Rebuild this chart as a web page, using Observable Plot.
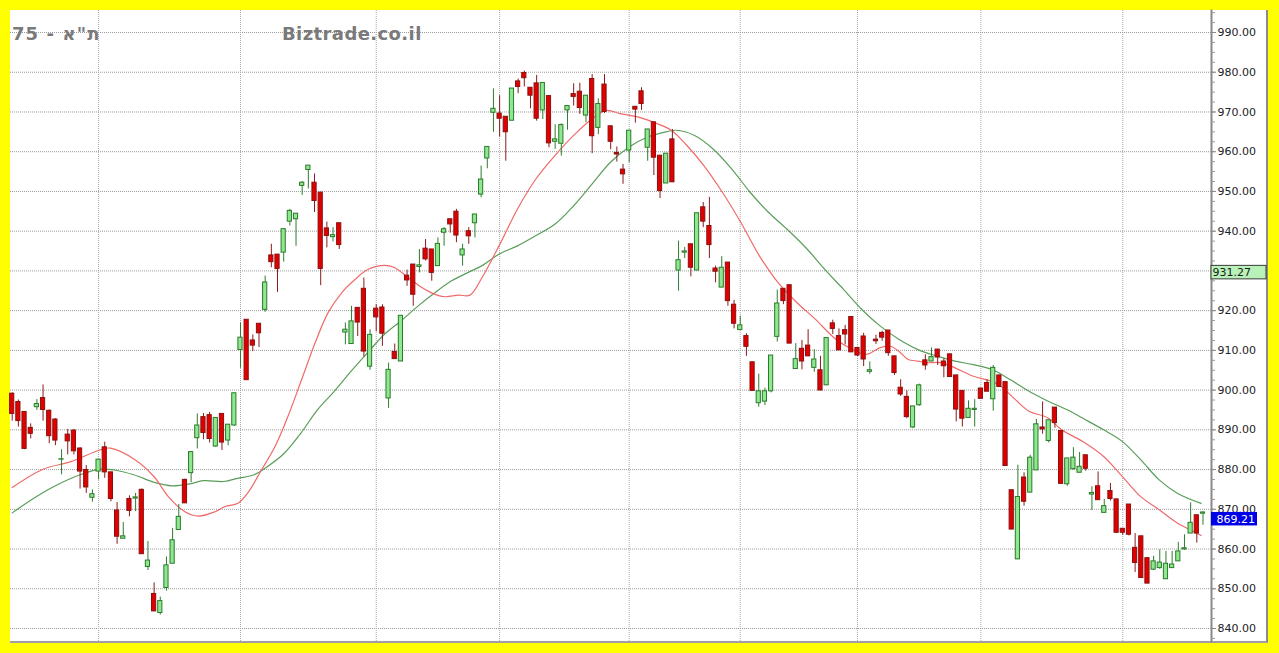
<!DOCTYPE html>
<html>
<head>
<meta charset="utf-8">
<script src="https://cdn.jsdelivr.net/npm/d3@7"></script>
<script src="https://cdn.jsdelivr.net/npm/@observablehq/plot@0.6"></script>
<style>
html, body { margin: 0; padding: 0; width: 1279px; height: 653px; overflow: hidden; background: #ffff00; }
#panel { position: absolute; left: 10px; top: 10px; width: 1256px; height: 631px; background: #ffffff;
  border-right: 2px solid #8a8a8a; border-bottom: 2px solid #a0a0a0; box-sizing: content-box; }
#chart { position: absolute; left: 0; top: 0; }
.ttl { position: absolute; top: 23px; font: bold 18px "DejaVu Sans", Verdana, sans-serif; color: #7a7a7a; white-space: nowrap; }
</style>
</head>
<body>
<div id="panel"></div>
<div id="chart"></div>
<div class="ttl" id="t1" style="left:12px; letter-spacing:1.1px" dir="rtl"></div>
<div class="ttl" id="t2" style="left:282px; letter-spacing:0.4px"></div>
<script>
// ---- titles ----
const titleLeft = 'ת"א - 75';
const titleRight = "Biztrade.co.il";

// ---- daily OHLC (index 0 = leftmost candle) ----
const open = [
899.1,897.0,894.5,890.5,895.7,898.0,894.8,892.6,882.5,888.8,
889.8,885.3,879.9,872.9,879.5,885.6,879.3,869.7,862.6,872.6,
872.7,874.9,855.5,848.7,843.9,850.2,856.3,864.8,877.4,879.1,
887.9,893.2,893.7,885.8,894.0,887.3,891.1,910.1,917.7,912.5,
916.7,920.2,933.9,934.1,934.6,942.4,943.0,951.4,955.4,952.2,
949.7,940.7,938.5,942.0,914.5,911.6,920.7,925.5,905.9,920.5,
920.8,897.9,909.6,907.2,928.8,931.6,931.0,935.6,935.4,931.2,
939.6,943.0,944.9,933.9,940.0,942.0,949.2,958.3,969.8,969.6,
968.8,967.8,977.7,979.8,976.1,977.2,970.4,974.0,962.5,962.0,
970.4,974.5,975.1,969.1,978.3,966.0,976.9,966.4,959.7,955.5,
960.3,971.3,975.2,961.0,967.4,959.0,952.0,963.1,930.1,934.6,
936.7,930.1,946.0,941.3,930.6,925.8,932.1,921.5,915.1,913.6,
907.0,896.7,897.1,899.7,913.4,925.5,926.4,905.3,910.4,911.2,
905.6,905.0,901.2,916.8,913.6,915.1,918.4,910.6,913.5,904.6,
912.7,914.4,915.0,908.5,900.6,898.3,890.6,896.2,907.5,907.2,
910.2,907.2,909.0,903.7,899.8,893.0,895.0,900.4,901.8,897.7,
903.7,902.0,874.8,857.4,878.0,874.2,879.8,890.6,887.2,895.6,
889.7,876.3,880.1,879.2,883.6,873.7,875.8,869.1,874.6,872.5,
865.1,871.2,860.3,863.2,857.7,854.8,855.2,852.4,855.2,856.9,
859.9,863.9,868.5,868.9];
const high = [
899.3,897.5,894.6,891.5,897.6,901.3,895.0,892.8,885.0,890.1,
890.1,885.5,881.0,874.9,882.5,886.9,879.3,871.7,866.7,873.4,
874.0,875.1,861.9,851.5,847.9,858.0,865.2,871.2,877.6,884.4,
894.0,894.1,894.4,893.0,894.0,891.3,899.2,916.9,917.7,913.9,
916.7,928.7,936.7,934.1,940.5,945.5,944.4,952.5,956.5,954.4,
949.7,942.3,940.9,942.0,916.9,921.1,920.7,928.2,915.2,921.5,
921.5,906.8,911.6,918.7,930.2,931.6,935.4,937.9,935.4,938.3,
940.9,943.0,945.5,936.7,940.9,944.2,956.4,961.2,975.8,974.1,
968.8,975.9,978.3,980.3,976.1,979.2,977.3,974.0,966.8,967.0,
971.5,977.1,977.2,974.1,979.4,973.3,979.4,966.4,961.2,956.8,
965.3,971.3,976.1,965.6,967.4,959.0,959.5,965.6,937.5,935.9,
936.7,944.5,947.2,948.5,931.2,933.6,932.1,922.6,918.6,914.2,
907.0,904.0,900.5,908.7,925.2,925.5,926.4,911.7,912.5,915.2,
910.2,908.5,913.1,917.6,915.4,916.3,918.4,910.6,914.3,907.1,
913.8,914.8,915.0,908.5,902.6,899.8,895.9,901.5,908.9,910.6,
910.2,907.9,909.0,903.7,899.8,897.3,897.6,900.4,902.6,906.2,
903.7,902.0,874.8,881.1,879.2,883.6,892.6,897.0,892.4,895.6,
889.7,882.8,885.5,884.3,883.6,875.7,879.4,872.5,876.5,872.5,
865.1,871.2,863.9,863.2,857.7,858.2,859.8,859.4,859.4,861.7,
863.6,871.6,868.5,869.3];
const low = [
892.2,890.7,885.0,887.7,894.9,892.2,886.5,886.0,878.7,883.7,
883.7,875.1,874.0,871.8,877.4,877.8,871.9,861.2,862.6,868.1,
869.4,858.7,854.6,844.3,843.4,849.4,856.3,864.8,871.5,876.7,
885.2,887.5,886.7,885.6,884.8,886.0,890.9,905.5,902.5,909.7,
910.7,919.6,930.8,924.6,932.2,941.3,936.2,949.0,950.6,944.7,
926.3,935.8,937.3,935.4,911.4,911.6,913.5,908.3,905.0,914.7,
911.0,895.4,907.8,907.2,926.1,921.1,929.5,932.5,927.4,931.2,
936.2,939.5,937.1,931.2,936.7,938.3,948.4,955.7,964.9,963.7,
957.6,967.8,974.6,976.3,970.8,967.7,968.1,961.0,960.6,958.9,
965.4,971.5,969.4,967.3,959.5,964.3,969.6,960.5,957.4,951.8,
957.2,967.2,970.4,957.6,954.0,948.2,952.0,952.3,924.9,933.1,
928.5,930.1,940.9,933.1,927.0,925.8,921.1,915.4,915.1,908.5,
899.8,895.7,896.1,899.3,912.1,921.5,911.7,905.3,905.1,908.5,
904.5,899.9,901.2,914.0,910.0,911.4,909.5,908.5,905.9,904.0,
911.5,912.3,908.5,903.7,898.4,892.8,890.3,895.9,905.0,907.1,
906.2,903.1,903.3,892.0,890.7,893.0,890.7,897.8,899.6,894.7,
900.8,880.9,864.9,857.4,870.8,874.2,879.8,888.9,886.7,890.4,
876.4,875.8,879.9,879.2,879.6,869.7,872.3,869.1,872.1,863.9,
863.4,863.3,854.1,852.7,851.3,854.6,854.9,852.4,855.2,856.9,
859.7,863.9,861.5,866.0];
const close = [
894.0,892.2,885.2,889.0,896.5,895.0,888.4,887.3,882.6,887.1,
884.6,879.5,875.5,873.8,882.5,879.3,872.6,863.1,863.2,869.6,
873.0,858.7,857.1,844.3,846.9,855.9,862.2,868.1,871.5,884.4,
891.1,889.2,887.7,893.0,886.8,891.3,899.2,913.2,902.5,911.2,
914.3,927.1,932.2,930.5,940.5,945.1,944.4,952.2,956.5,947.6,
930.5,938.8,939.0,936.5,915.2,917.3,917.0,909.7,913.9,918.3,
914.2,905.1,907.8,918.7,927.6,924.0,931.4,932.9,929.5,936.8,
940.5,941.7,938.9,935.4,938.7,944.2,953.0,961.2,970.8,968.3,
964.9,975.9,976.3,978.5,974.1,968.3,977.3,962.1,963.1,966.7,
971.5,973.8,971.0,974.1,963.9,972.0,970.0,962.5,959.3,954.3,
965.3,970.6,972.0,965.6,958.5,950.1,959.5,952.3,932.7,934.9,
930.8,944.5,942.4,936.5,929.8,930.8,922.4,916.7,916.3,910.9,
899.8,899.7,899.7,908.7,921.8,922.4,911.7,907.8,907.2,908.5,
907.7,899.9,913.1,915.4,910.0,914.0,909.5,908.7,907.7,905.0,
912.3,913.2,909.3,904.3,898.9,893.2,895.9,901.2,906.2,908.3,
908.2,906.0,903.3,895.1,892.8,895.3,895.3,897.8,899.6,905.6,
900.8,880.9,864.9,873.1,871.9,883.0,891.4,890.1,892.4,891.7,
876.4,882.8,883.0,880.7,880.2,874.1,872.3,870.8,872.6,864.1,
864.1,863.6,856.5,852.7,851.3,856.9,856.6,856.3,856.1,859.4,
860.2,866.6,863.9,869.21];

// ---- moving averages (candle index, value) ----
const redMAIdx = [0,5,9.5,14.3,15.9,19.9,23,25.3,28,30.2,32.9,34.5,36.6,38.3,40.4,42.6,44.7,46.9,49.1,51.2,
  53.4,55.6,57.7,60.4,62,64.2,66.4,68.5,70.2,72.3,74.2,76,78.9,81.9,84.9,88,91,94,96.3,98.5,
  101.5,103.8,106.8,109.1,112.1,115.1,118.1,121.1,124.1,127.2,130.2,133.2,136.2,138.5,140.7,142.2,143.7,145.2,146.8,148.3,
  150.5,152.8,155.8,158.8,160.2,162.6,164.8,167.9,170.1,173.9,176.9,179.9,182.9,185.9,188.9,192,192.7];
const redMA = [875.5,880.1,882.0,885.0,885.4,882.5,878.2,873.2,869.4,868.3,869.4,870.7,871.5,874.4,879.9,885.8,893.4,902.6,911.9,919.5,
  924.5,927.9,930.4,931.4,930.8,928.3,925.8,924.1,923.5,923.9,923.9,927.9,936.3,945.6,953.2,959.1,964.1,968.3,970.4,969.6,
  968.7,967.5,965.4,962.0,956.5,949.8,942.2,933.8,927.1,922.0,917.8,913.2,910.2,909.0,910.7,911.1,909.8,907.7,907.3,906.9,
  906.9,905.6,903.5,902.2,901.0,897.6,894.7,893.0,890.0,886.7,883.3,878.3,873.2,869.9,866.5,864.0,863.4];
const greenMAIdx = [0,3.5,6.7,11,14.3,16.5,19.7,23.2,25.9,28.8,31,34.3,36.5,39.2,41.4,44.1,46.8,49.5,52.2,54.9,
  57.6,60.3,63,65.8,68.5,71.2,74,76,78.9,81.9,84.9,88,91,94,97,100,103,106,107.6,110.6,
  113.6,116.6,119.6,122.6,125.6,128.6,131.7,134.7,137.7,140.7,143.7,146.8,149.8,152.8,155.8,158.8,161.8,164.8,167.9,170.9,
  173.9,176.9,179.9,182.9,185.9,188.9,192.7];
const greenMA = [869.1,872.8,875.7,878.7,880.1,879.9,878.7,876.7,875.9,876.4,877.2,877.0,877.8,878.7,880.8,884.1,889.2,895.1,899.7,904.7,
  909.4,914.0,917.4,921.2,924.5,927.5,929.7,931.2,934.2,936.3,938.9,941.8,946.4,951.9,957.4,961.2,963.7,965.0,965.4,964.1,
  960.7,955.7,949.8,944.7,940.5,935.9,930.4,925.4,920.3,916.1,912.8,910.2,908.6,907.3,906.4,905.2,902.6,899.7,897.2,895.1,
  892.6,890.0,887.1,882.5,877.4,874.0,871.5];

// ---- axis / grid ----
const yTicks = d3.range(840, 991, 10);
const yTickLabels = yTicks.filter(v => v !== 930);   // 930.00 sits under the marker box
const yMinor = d3.range(837.5, 995.1, 2.5);
const monthStarts = [14, 37, 59, 79, 100, 118, 137, 157, 180];
const markerValue = 931.27;
const lastValue = 869.21;

const candles = open.map((o, i) => ({ i, o, h: high[i], l: low[i], c: close[i] }));
const upC = candles.filter(d => d.c >= d.o);
const downC = candles.filter(d => d.c < d.o);
const redPts = redMAIdx.map((i, k) => ({ i, v: redMA[k] }));
const greenPts = greenMAIdx.map((i, k) => ({ i, v: greenMA[k] }));

const xMin = -0.276, xMax = 194.38;
const bodyHalf = 0.34;

const chart = Plot.plot({
  width: 1279,
  height: 653,
  marginLeft: 10,
  marginRight: 68,
  marginTop: 10,
  marginBottom: 12,
  style: { background: "transparent", fontFamily: "'DejaVu Sans', Verdana, sans-serif", overflow: "visible" },
  x: { domain: [xMin, xMax], axis: null },
  y: { domain: [836.73, 995.54], axis: null },
  marks: [
    Plot.ruleY(yTicks, { stroke: "#9a9a9a", strokeDasharray: "1,1" }),
    Plot.ruleX(monthStarts, { stroke: "#a8a8a8", strokeDasharray: "1,1" }),
    Plot.line(greenPts, { x: "i", y: "v", stroke: "#5a9e5a", strokeWidth: 1.2, curve: "catmull-rom" }),
    Plot.line(redPts, { x: "i", y: "v", stroke: "#f06a6a", strokeWidth: 1.2, curve: "catmull-rom" }),
    Plot.ruleX(upC, { x: "i", y1: "l", y2: "h", stroke: "#2e7d2e", strokeWidth: 1 }),
    Plot.ruleX(downC, { x: "i", y1: "l", y2: "h", stroke: "#8a1a1a", strokeWidth: 1 }),
    Plot.rect(upC, { x1: d => d.i - bodyHalf, x2: d => d.i + bodyHalf, y1: "o", y2: "c",
      fill: "#8fe88f", stroke: "#2a7a2a", strokeWidth: 1 }),
    Plot.rect(downC, { x1: d => d.i - bodyHalf, x2: d => d.i + bodyHalf, y1: "o", y2: "c",
      fill: "#e00000", stroke: "#8a1010", strokeWidth: 1 }),
    Plot.frame({ anchor: "right", stroke: "#8a8a8a", strokeWidth: 2 }),
    Plot.axisY(yMinor, { anchor: "right", tickSize: 3, tickFormat: () => "", stroke: "#9a9a9a", label: null }),
    Plot.axisY(yTicks, { anchor: "right", tickSize: 4, tickFormat: () => "", stroke: "#8a8a8a", label: null }),
    Plot.axisY(yTickLabels, { anchor: "right", tickSize: 0, tickPadding: 6, tickFormat: d => d.toFixed(2),
      fontSize: 11, fill: "#222", label: null }),
    // marker value box
    Plot.rect([markerValue], { x1: () => xMax, x2: () => xMax, y1: d => d, y2: d => d,
      insetRight: -55, insetBottom: -13.5, fill: "#b8f2b8", stroke: "#3a3a3a", strokeWidth: 1 }),
    Plot.text([markerValue], { x: () => xMax, y: d => d, text: d => d.toFixed(2), textAnchor: "start",
      dx: 1, dy: 7, fontSize: 11, fill: "#1a1a1a" }),
    // last price box
    Plot.rect([lastValue], { x1: () => xMax, x2: () => xMax, y1: d => d, y2: d => d,
      insetRight: -46, insetBottom: -13.5, fill: "#0000e8" }),
    Plot.text([lastValue], { x: () => xMax, y: d => d, text: d => d.toFixed(2), textAnchor: "start",
      dx: 5, dy: 7, fontSize: 11, fill: "#ffffff" })
  ]
});
document.getElementById("chart").appendChild(chart);
document.getElementById("t1").textContent = titleLeft;
document.getElementById("t2").textContent = titleRight;
</script>
</body>
</html>
